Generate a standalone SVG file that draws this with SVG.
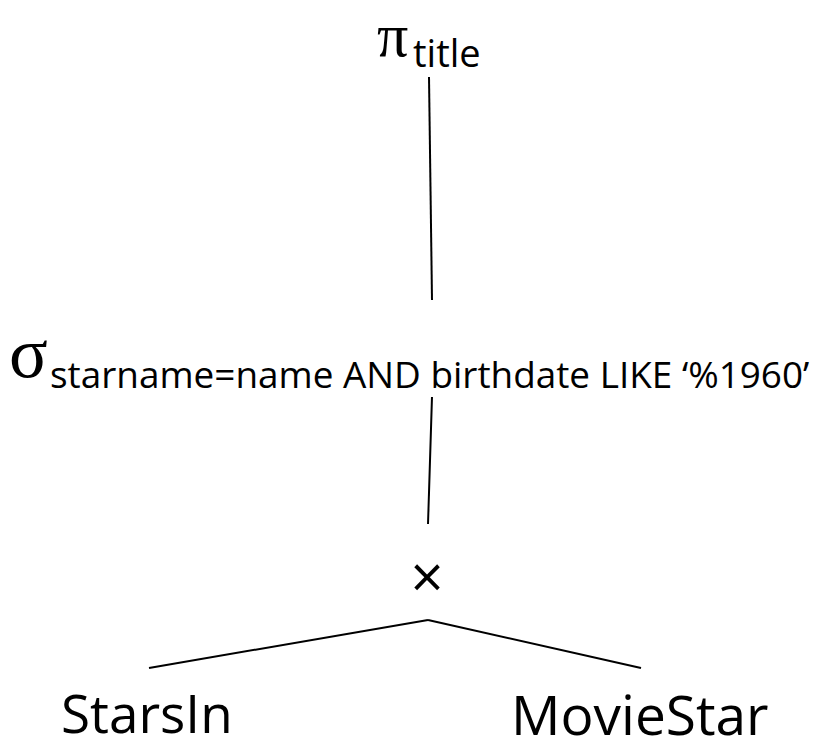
<svg xmlns="http://www.w3.org/2000/svg" width="821" height="741" viewBox="0 0 821 741">
  <style>
    .sans { font-family: "Open Sans", "Liberation Sans", sans-serif; fill: #000; }
    .greek { font-family: "Liberation Serif", "DejaVu Serif", serif; fill: #000; }
    .edge { stroke: #000; stroke-width: 2; fill: none; stroke-linecap: butt; }
  </style>
  <rect width="821" height="741" fill="#fff"/>

  <!-- tree edges -->
  <g id="edges">
    <line class="edge" x1="429" y1="77" x2="432" y2="300"/>
    <line class="edge" x1="432" y1="397" x2="428" y2="524"/>
    <line class="edge" x1="428" y1="620" x2="149" y2="668"/>
    <line class="edge" x1="428" y1="620" x2="641" y2="668"/>
  </g>

  <!-- projection on title -->
  <g id="project">
    <text class="greek" x="377" y="56" font-size="62">π</text>
    <text class="sans" x="413" y="67" font-size="38">title</text>
  </g>

  <!-- selection with join condition -->
  <g id="select">
    <text class="greek" x="9" y="377" font-size="72">σ</text>
    <text class="sans" x="50" y="388" font-size="36.9">starname=name AND birthdate LIKE ‘%1960’</text>
  </g>

  <!-- cartesian product -->
  <g id="product">
    <text class="sans" x="427" y="598" font-size="58" text-anchor="middle">×</text>
  </g>

  <!-- base relations -->
  <g id="starsin">
    <text class="sans" x="61" y="733" font-size="53">StarsIn</text>
  </g>
  <g id="moviestar">
    <text class="sans" x="511" y="735" font-size="55">MovieStar</text>
  </g>
</svg>
